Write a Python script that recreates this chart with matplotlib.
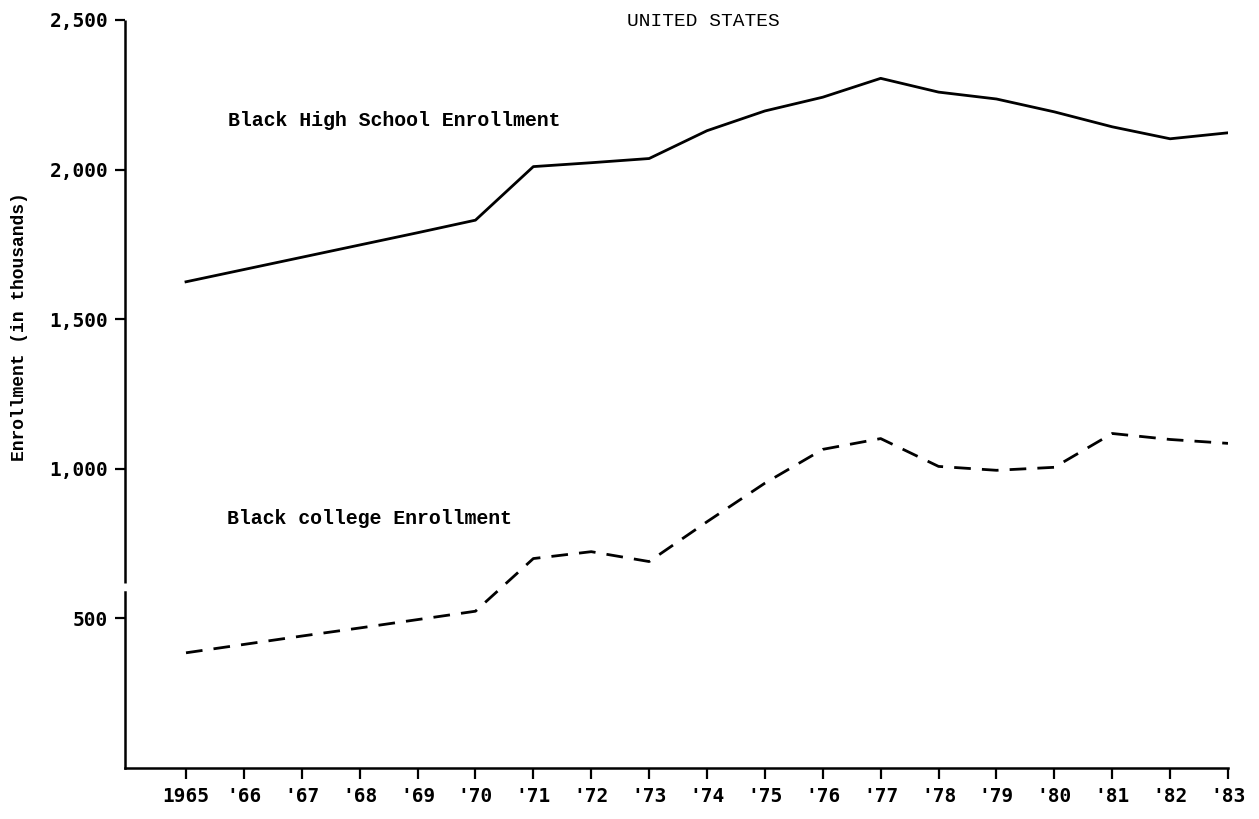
import matplotlib
matplotlib.use("Agg")
import matplotlib.pyplot as plt

years = ["1965", "'66", "'67", "'68", "'69", "'70", "'71", "'72", "'73", "'74",
         "'75", "'76", "'77", "'78", "'79", "'80", "'81", "'82", "'83"]
high_school = [1625, 1666, 1707, 1748, 1789, 1831, 2010, 2023, 2037, 2130,
               2196, 2242, 2305, 2259, 2236, 2193, 2143, 2103, 2123]
college = [385, 413, 441, 468, 496, 524, 700, 723, 690, 823,
           952, 1065, 1101, 1008, 995, 1005, 1118, 1098, 1085]
yticks = [500, 1000, 1500, 2000, 2500]
ytick_labels = ["500", "1,000", "1,500", "2,000", "2,500"]

W, H = 1259, 819
left_px, right_px, top_px, bottom_px = 125, 1228, 20, 768
first_px = 186

fig = plt.figure(figsize=(W / 100, H / 100), dpi=100)
ax = fig.add_axes([left_px / W, 1 - bottom_px / H,
                   (right_px - left_px) / W, (bottom_px - top_px) / H])

x = list(range(len(years)))
ax.plot(x, high_school, color="black", lw=2.0)
ax.plot(x, college, color="black", lw=2.0, linestyle=(0, (6, 4)))

spacing = (right_px - first_px) / (len(years) - 1)
ax.set_xlim((left_px - first_px) / spacing, len(years) - 1)
ax.set_ylim(0, 2500)

for s in ["top", "right"]:
    ax.spines[s].set_visible(False)
ax.spines["bottom"].set_linewidth(1.8)
ax.spines["left"].set_linewidth(1.8)
ax.spines["left"].set_bounds(0, 587)
ax.plot([0, 0], [617, 2500], transform=ax.get_yaxis_transform(),
        color="black", lw=1.8, clip_on=False, solid_capstyle="butt")

tick_font = dict(family="DejaVu Sans Mono", fontsize=14, fontweight="bold")
ax.set_xticks(x)
ax.set_xticklabels(years, **tick_font)
ax.set_yticks(yticks)
ax.set_yticklabels(ytick_labels, **tick_font)
ax.tick_params(axis="x", direction="out", length=8, width=1.6, pad=6)
ax.tick_params(axis="y", direction="out", length=7, width=1.6, pad=5)

ax.set_ylabel("Enrollment (in thousands)", family="Liberation Mono",
              fontsize=13, fontweight="bold")
ax.yaxis.set_label_coords(-0.088, 0.59)

txt_font = dict(family="Liberation Mono", fontsize=14.3, fontweight="bold")
fig.text(703 / W, 1 - 22 / H, "UNITED STATES", ha="center", va="center",
         family="Liberation Mono", fontsize=14)
fig.text(228 / W, 1 - 120 / H, "Black High School Enrollment",
         ha="left", va="center", **txt_font)
fig.text(227 / W, 1 - 519 / H, "Black college Enrollment",
         ha="left", va="center", **txt_font)

fig.savefig("out.png", dpi=100, facecolor="white")
